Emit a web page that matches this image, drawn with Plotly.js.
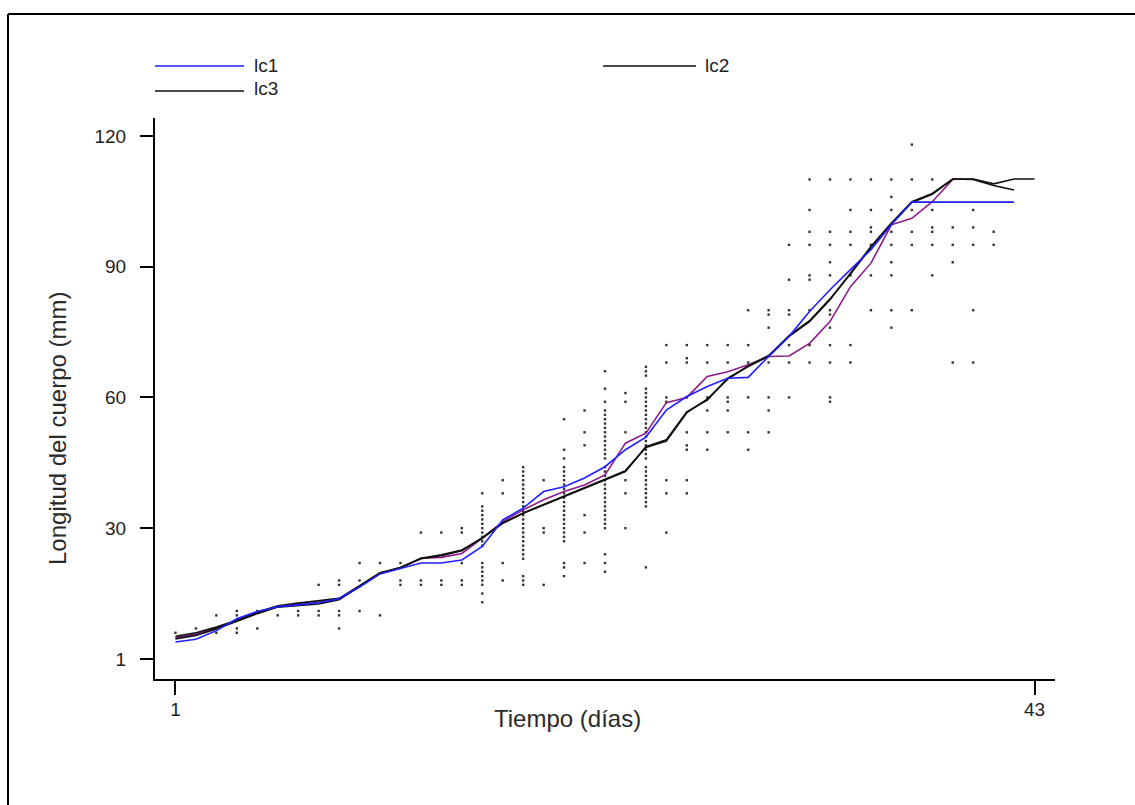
<!DOCTYPE html>
<html>
<head>
<meta charset="utf-8">
<script src="https://cdn.plot.ly/plotly-3.0.1.min.js"></script>
<style>
  html, body { margin: 0; padding: 0; background: #ffffff; }
  #chart { width: 1135px; height: 805px; }
</style>
</head>
<body>
<div id="chart"></div>
<script>
// ---- Data ----
const days = [1,2,3,4,5,6,7,8,9,10,11,12,13,14,15,16,17,18,19,20,21,22,23,24,25,26,27,28,29,30,31,32,33,34,35,36,37,38,39,40,41,42,43];

const lc1 = [3.9,4.5,6.5,9.2,10.9,12.0,12.4,12.9,13.8,16.5,19.5,20.8,22.0,22.0,22.7,25.8,31.9,34.6,38.4,39.5,41.5,44.1,48.0,50.9,57.1,60.2,62.5,64.4,64.6,69.4,74.0,79.7,84.7,89.3,93.9,99.6,104.8,104.8,104.8,104.8,104.8,104.8];

const lc2 = [5.2,6.0,7.3,8.9,10.7,12.2,12.8,13.3,13.9,16.8,19.8,21.0,23.1,23.9,25.0,27.7,31.1,33.4,35.3,37.2,39.2,41.1,43.0,48.7,50.3,56.7,59.4,64.4,67.1,69.4,74.0,77.4,82.4,88.5,94.6,100.0,104.9,106.8,110.1,110.1,109.0,110.1,110.1];

const lc3 = [4.6,5.4,6.9,8.6,10.4,11.9,12.3,12.6,13.6,16.6,19.6,21.0,23.0,23.7,24.8,27.8,31.2,33.5,35.4,37.3,39.3,41.2,43.2,48.5,50.0,56.5,59.6,64.2,67.2,69.6,74.2,77.6,82.6,88.3,94.4,99.8,104.7,106.6,110.1,110.0,108.6,107.6];

const lcPurple = [4.9,5.7,7.1,8.8,10.6,12.0,12.5,13.0,13.7,16.7,19.7,20.8,23.1,23.3,24.2,27.7,31.5,34.2,36.5,38.4,39.9,42.2,49.5,51.8,58.8,60.0,64.8,65.9,67.5,69.4,69.5,72.4,77.4,85.4,90.8,99.6,101.1,104.9,110.0];

// observed lengths (mm) for each day, index 0 = day 1
const observedByDay = [
  [6],
  [7],
  [10,6],
  [11,10,7,6],
  [11,7],
  [10],
  [11,10],
  [17,11,10],
  [18,17,11,10,7],
  [22,18,11],
  [22,10],
  [22,18,17],
  [29,18,17],
  [29,18,17],
  [30,29,22,18,17],
  [38,35,34,33,32,31,30,29,28,27,26,22,21,20,19,18,17,15,13],
  [41,38,22,18],
  [44,43,42,41,40,39,38,37,36,35,34,33,32,31,30,29,28,27,26,25,24,23,19,18,17],
  [41,30,29,17],
  [55,48,46,44,43,42,41,40,39,38,37,36,35,34,33,32,31,30,29,28,27,22,21,19],
  [57,52,49,33,29,22],
  [66,62,59,57,56,55,54,53,52,51,50,49,48,47,46,44,43,42,41,40,39,38,37,36,35,34,33,32,31,30,24,22,20],
  [61,59,52,41,38,30],
  [67,66,65,62,61,60,59,58,57,56,55,54,53,52,51,50,49,48,47,46,44,43,42,41,40,39,38,37,36,35,21],
  [72,68,60,59,41,38,29],
  [72,69,68,60,52,49,48,41,38],
  [72,68,60,57,52,48],
  [72,68,60,59,57,52],
  [80,72,68,60,52,48],
  [80,79,76,68,60,57,52],
  [95,87,80,79,72,68,60],
  [110,103,98,95,88,87,80,72,68],
  [110,98,95,91,88,80,79,76,72,68,60,59],
  [110,103,98,95,88,72,68],
  [110,103,99,98,95,88,80],
  [110,106,103,98,95,91,88,80,76],
  [118,110,103,98,95,80],
  [110,103,99,98,95,88],
  [99,95,91,68],
  [103,99,95,80,68],
  [98,95]
];

const xTickVals = [1, 43];
const xTickText = ['1', '43'];
const yTickVals = [0, 30, 60, 90, 120];
const yTickText = ['1', '30', '60', '90', '120'];
const legendNames = ['lc1', 'lc2', 'lc3'];
const xTitle = 'Tiempo (días)';
const yTitle = 'Longitud del cuerpo (mm)';

// ---- Build traces ----
const dotX = [], dotY = [];
observedByDay.forEach((vals, i) => {
  vals.forEach(v => { dotX.push(days[i]); dotY.push(v); });
});

const FONT = 'Liberation Sans, Arial, sans-serif';

const traces = [
  { x: dotX, y: dotY, type: 'scatter', mode: 'markers', name: 'obs',
    marker: { size: 2.4, color: '#333333', symbol: 'square' }, hoverinfo: 'skip' },
  { x: days.slice(0, lcPurple.length), y: lcPurple, type: 'scatter', mode: 'lines', name: 'lc',
    line: { color: '#8b1a8b', width: 1.6 } },
  { x: days.slice(0, lc3.length), y: lc3, type: 'scatter', mode: 'lines', name: legendNames[2],
    line: { color: '#111111', width: 1.6 } },
  { x: days.slice(0, lc2.length), y: lc2, type: 'scatter', mode: 'lines', name: legendNames[1],
    line: { color: '#111111', width: 1.6 } },
  { x: days.slice(0, lc1.length), y: lc1, type: 'scatter', mode: 'lines', name: legendNames[0],
    line: { color: '#1f1fff', width: 1.6 } }
];

// pixel -> paper helpers for decorations (plot area: x 155..1055, y 118..679)
const L = 155, R = 80, T = 118, B = 126, W = 1135, H = 805;
const pw = W - L - R, ph = H - T - B;
const px = x => (x - L) / pw;
const py = y => (H - B - y) / ph;

const shapes = [
  // outer frame (left and top edges visible)
  { type: 'line', xref: 'paper', yref: 'paper', x0: px(8), x1: px(8), y0: py(14), y1: py(820), line: { color: '#000', width: 2 } },
  { type: 'line', xref: 'paper', yref: 'paper', x0: px(8), x1: px(1150), y0: py(14), y1: py(14), line: { color: '#000', width: 2 } },
  // legend samples
  { type: 'line', xref: 'paper', yref: 'paper', x0: px(155), x1: px(244), y0: py(66), y1: py(66), line: { color: '#1f1fff', width: 1.6 } },
  { type: 'line', xref: 'paper', yref: 'paper', x0: px(603), x1: px(696), y0: py(66), y1: py(66), line: { color: '#111', width: 1.6 } },
  { type: 'line', xref: 'paper', yref: 'paper', x0: px(155), x1: px(244), y0: py(91), y1: py(91), line: { color: '#111', width: 1.6 } }
];

const annotations = [
  { text: legendNames[0], xref: 'paper', yref: 'paper', x: px(252), y: py(65), xanchor: 'left', yanchor: 'middle', showarrow: false, font: { family: FONT, size: 19, color: '#222' } },
  { text: legendNames[1], xref: 'paper', yref: 'paper', x: px(703), y: py(65), xanchor: 'left', yanchor: 'middle', showarrow: false, font: { family: FONT, size: 19, color: '#222' } },
  { text: legendNames[2], xref: 'paper', yref: 'paper', x: px(252), y: py(88), xanchor: 'left', yanchor: 'middle', showarrow: false, font: { family: FONT, size: 19, color: '#222' } },
  { text: xTitle, xref: 'paper', yref: 'paper', x: px(567), y: py(718), xanchor: 'center', yanchor: 'middle', showarrow: false, font: { family: FONT, size: 24, color: '#2a2a2a' } },
  { text: yTitle, xref: 'paper', yref: 'paper', x: px(57), y: py(429), xanchor: 'center', yanchor: 'middle', textangle: -90, showarrow: false, font: { family: FONT, size: 24, color: '#2a2a2a' } }
];

const layout = {
  width: W, height: H,
  margin: { l: L, r: R, t: T, b: B, pad: 0 },
  paper_bgcolor: '#ffffff', plot_bgcolor: '#ffffff',
  showlegend: false,
  font: { family: FONT, color: '#222' },
  xaxis: {
    range: [0, 44], tickvals: xTickVals, ticktext: xTickText,
    ticks: 'outside', ticklen: 14, tickwidth: 2, tickcolor: '#000',
    showline: true, linecolor: '#000', linewidth: 2, mirror: false,
    showgrid: false, zeroline: false,
    tickfont: { family: FONT, size: 19, color: '#222' },
    ticklabelstandoff: -2
  },
  yaxis: {
    range: [-4.6, 124.1], tickvals: yTickVals, ticktext: yTickText,
    ticks: 'outside', ticklen: 13, tickwidth: 2, tickcolor: '#000',
    showline: true, linecolor: '#000', linewidth: 2, mirror: false,
    showgrid: false, zeroline: false,
    tickfont: { family: FONT, size: 19, color: '#222' },
    ticklabelstandoff: 10
  },
  shapes: shapes,
  annotations: annotations
};

Plotly.newPlot('chart', traces, layout, { staticPlot: true, displayModeBar: false });
</script>
</body>
</html>
